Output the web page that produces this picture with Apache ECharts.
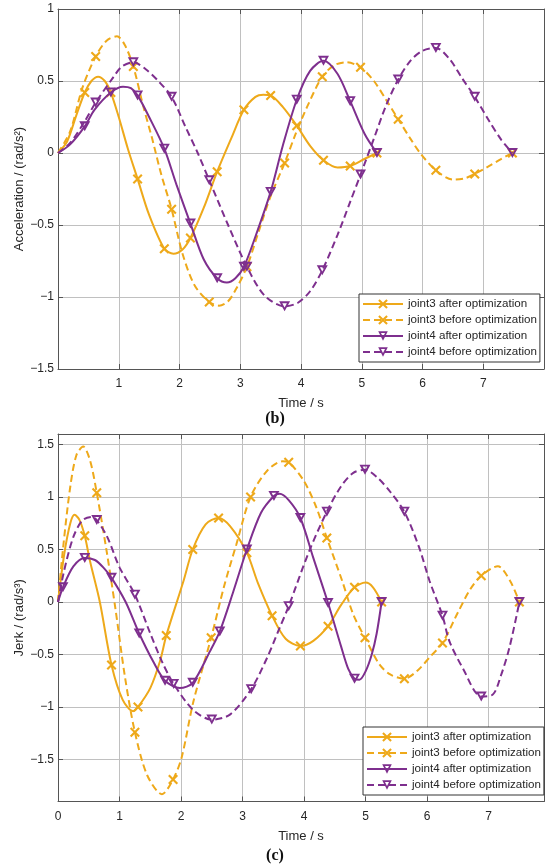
<!DOCTYPE html>
<html>
<head>
<meta charset="utf-8">
<script src="https://cdn.jsdelivr.net/npm/echarts@6/dist/echarts.min.js"></script>
<style>
html,body{margin:0;padding:0;background:#fff;}
#chart{width:550px;height:868px;}
</style>
</head>
<body>
<div id="chart"></div>
<script>
// ---------- DATA ----------
const seriesNames = ['joint3 after optimization', 'joint3 before optimization', 'joint4 after optimization', 'joint4 before optimization'];

// (b) Acceleration
const accJ3AfterT = [0, 0.15, 0.3, 0.44, 0.55, 0.66, 0.77, 0.87, 1.0, 1.15, 1.31, 1.5, 1.75, 1.9, 2.05, 2.18, 2.4, 2.62, 2.85, 3.06, 3.25, 3.38, 3.5, 3.7, 3.93, 4.15, 4.37, 4.6, 4.81, 5.05, 5.25];
const accJ3AfterV = [0, 0.08, 0.26, 0.42, 0.5, 0.53, 0.5, 0.42, 0.25, 0.03, -0.18, -0.43, -0.665, -0.7, -0.67, -0.59, -0.38, -0.13, 0.1, 0.3, 0.39, 0.405, 0.4, 0.32, 0.19, 0.05, -0.05, -0.1, -0.09, -0.04, 0];
const accJ3AfterMarks = [0.44, 0.87, 1.31, 1.75, 2.18, 2.62, 3.06, 3.5, 3.93, 4.37, 4.81, 5.25];

const accJ3BeforeT = [0, 0.2, 0.4, 0.62, 0.8, 0.97, 1.1, 1.24, 1.4, 1.55, 1.7, 1.87, 2.05, 2.25, 2.49, 2.65, 2.8, 2.95, 3.11, 3.3, 3.5, 3.73, 3.9, 4.1, 4.35, 4.55, 4.75, 4.98, 5.2, 5.4, 5.6, 5.8, 5.96, 6.22, 6.5, 6.7, 6.86, 7.1, 7.3, 7.48];
const accJ3BeforeV = [0, 0.15, 0.45, 0.67, 0.78, 0.81, 0.75, 0.6, 0.33, 0.1, -0.15, -0.39, -0.7, -0.92, -1.035, -1.06, -1.03, -0.93, -0.79, -0.55, -0.3, -0.07, 0.12, 0.32, 0.53, 0.61, 0.63, 0.595, 0.5, 0.37, 0.235, 0.1, 0, -0.12, -0.185, -0.175, -0.145, -0.09, -0.04, 0];
const accJ3BeforeMarks = [0.62, 1.24, 1.87, 2.49, 3.11, 3.73, 4.35, 4.98, 5.6, 6.22, 6.86, 7.48];

const accJ4AfterT = [0, 0.2, 0.44, 0.6, 0.87, 1.07, 1.2, 1.31, 1.5, 1.75, 1.95, 2.18, 2.4, 2.62, 2.78, 2.92, 3.06, 3.25, 3.5, 3.7, 3.93, 4.15, 4.37, 4.6, 4.81, 5.05, 5.25];
const accJ4AfterV = [0, 0.06, 0.185, 0.3, 0.42, 0.46, 0.45, 0.4, 0.25, 0.03, -0.22, -0.49, -0.74, -0.87, -0.9, -0.87, -0.79, -0.58, -0.27, 0.05, 0.37, 0.57, 0.64, 0.55, 0.36, 0.13, 0];
const accJ4AfterMarks = [0.44, 0.87, 1.31, 1.75, 2.18, 2.62, 3.06, 3.5, 3.93, 4.37, 4.81, 5.25];

const accJ4BeforeT = [0, 0.2, 0.44, 0.62, 0.9, 1.05, 1.24, 1.45, 1.65, 1.87, 2.1, 2.3, 2.49, 2.8, 3.11, 3.4, 3.73, 3.95, 4.15, 4.35, 4.6, 4.8, 4.98, 5.2, 5.4, 5.6, 5.8, 6.0, 6.22, 6.45, 6.65, 6.86, 7.1, 7.3, 7.48];
const accJ4BeforeV = [0, 0.07, 0.22, 0.35, 0.52, 0.6, 0.63, 0.58, 0.5, 0.39, 0.18, 0.0, -0.19, -0.5, -0.79, -0.99, -1.065, -1.04, -0.96, -0.815, -0.57, -0.35, -0.15, 0.1, 0.33, 0.51, 0.64, 0.71, 0.73, 0.65, 0.52, 0.39, 0.22, 0.09, 0];
const accJ4BeforeMarks = [0.62, 1.24, 1.87, 2.49, 3.11, 3.73, 4.35, 4.98, 5.6, 6.22, 6.86, 7.48];

// (c) Jerk
const jerkJ3AfterT = [0, 0.1, 0.2, 0.27, 0.35, 0.435, 0.52, 0.68, 0.87, 1.05, 1.22, 1.3, 1.5, 1.66, 1.76, 2.04, 2.19, 2.4, 2.61, 2.8, 3.07, 3.25, 3.48, 3.7, 3.94, 4.15, 4.39, 4.6, 4.82, 5.0, 5.12, 5.26];
const jerkJ3AfterV = [0, 0.45, 0.75, 0.83, 0.78, 0.63, 0.39, 0, -0.6, -0.93, -1.04, -1.0, -0.82, -0.56, -0.32, 0.2, 0.5, 0.74, 0.8, 0.72, 0.47, 0.18, -0.13, -0.35, -0.42, -0.37, -0.23, -0.03, 0.14, 0.185, 0.14, 0];
const jerkJ3AfterMarks = [0.435, 0.87, 1.3, 1.76, 2.19, 2.61, 3.07, 3.48, 3.94, 4.39, 4.82, 5.26];

const jerkJ3BeforeT = [0, 0.08, 0.2, 0.3, 0.41, 0.52, 0.63, 0.8, 0.93, 1.09, 1.25, 1.45, 1.69, 1.87, 2.01, 2.2, 2.49, 2.7, 2.9, 3.13, 3.4, 3.65, 3.75, 4.0, 4.2, 4.37, 4.62, 4.8, 4.99, 5.22, 5.4, 5.63, 5.85, 6.05, 6.25, 6.5, 6.7, 6.88, 7.15, 7.35, 7.5];
const jerkJ3BeforeV = [0, 0.5, 1.1, 1.4, 1.48, 1.35, 1.04, 0.45, -0.05, -0.72, -1.24, -1.65, -1.83, -1.69, -1.48, -0.95, -0.34, 0.15, 0.55, 1.0, 1.25, 1.34, 1.33, 1.15, 0.9, 0.61, 0.2, -0.12, -0.34, -0.59, -0.69, -0.73, -0.65, -0.52, -0.39, -0.1, 0.12, 0.25, 0.34, 0.2, 0];
const jerkJ3BeforeMarks = [0.63, 1.25, 1.87, 2.49, 3.13, 3.75, 4.37, 4.99, 5.63, 6.25, 6.88, 7.5];

const jerkJ4AfterT = [0, 0.08, 0.25, 0.435, 0.6, 0.75, 0.87, 1.1, 1.32, 1.55, 1.74, 1.98, 2.19, 2.47, 2.63, 2.85, 3.07, 3.3, 3.51, 3.6, 3.75, 3.94, 4.15, 4.39, 4.6, 4.72, 4.82, 4.9, 5.0, 5.1, 5.18, 5.26];
const jerkJ4AfterV = [0, 0.14, 0.34, 0.42, 0.4, 0.32, 0.23, 0.0, -0.3, -0.57, -0.75, -0.82, -0.77, -0.47, -0.28, 0.1, 0.5, 0.85, 1.01, 1.03, 0.97, 0.8, 0.42, -0.01, -0.42, -0.64, -0.73, -0.74, -0.66, -0.5, -0.3, 0];
const jerkJ4AfterMarks = [0.08, 0.435, 0.87, 1.32, 1.74, 2.19, 2.63, 3.07, 3.51, 3.94, 4.39, 4.82, 5.26];

const jerkJ4BeforeT = [0, 0.1, 0.25, 0.4, 0.55, 0.63, 0.8, 1.0, 1.25, 1.5, 1.7, 1.88, 2.2, 2.5, 2.8, 3.14, 3.4, 3.6, 3.75, 4.08, 4.37, 4.6, 4.8, 4.99, 5.2, 5.4, 5.63, 5.87, 6.04, 6.25, 6.36, 6.58, 6.88, 7.07, 7.2, 7.34, 7.5];
const jerkJ4BeforeV = [0, 0.3, 0.62, 0.78, 0.81, 0.78, 0.62, 0.33, 0.07, -0.3, -0.58, -0.78, -1.03, -1.12, -1.07, -0.83, -0.53, -0.25, -0.04, 0.48, 0.86, 1.1, 1.23, 1.26, 1.18, 1.05, 0.86, 0.52, 0.2, -0.13, -0.37, -0.63, -0.9, -0.88, -0.7, -0.43, 0];
const jerkJ4BeforeMarks = [0.63, 1.25, 1.88, 2.5, 3.14, 3.75, 4.37, 4.99, 5.63, 6.25, 6.88, 7.5];

// tick labels
const xTicksB = [0, 1, 2, 3, 4, 5, 6, 7, 8];
const yTicksB = [-1.5, -1, -0.5, 0, 0.5, 1];
const xTicksC = [0, 1, 2, 3, 4, 5, 6, 7];
const yTicksC = [-1.5, -1, -0.5, 0, 0.5, 1, 1.5];

// ---------- STYLE ----------
const ORANGE = '#EEA91A';
const PURPLE = '#7E2F8E';
const X_PATH = 'path://M0,1.5 L1.5,0 L5,3.5 L8.5,0 L10,1.5 L6.5,5 L10,8.5 L8.5,10 L5,6.5 L1.5,10 L0,8.5 L3.5,5 Z';
const TRI_PATH = 'path://M0,0 L10,0 L5,9 Z M2.89,1.7 L5,5.5 L7.11,1.7 Z';
const FONT = 'Liberation Sans, Arial, sans-serif';
const TXT = '#262626';
const AXIS = '#555555';
const GRID = '#c0c0c0';

const styles = [
  {color: ORANGE, symbol: X_PATH, size: 10, dash: 'solid'},
  {color: ORANGE, symbol: X_PATH, size: 10, dash: [7, 4]},
  {color: PURPLE, symbol: TRI_PATH, size: [11, 10], dash: 'solid'},
  {color: PURPLE, symbol: TRI_PATH, size: [11, 10], dash: [7, 4]}
];

function build(T, V, marks) {
  return T.map((t, i) => {
    const item = {value: [t, V[i]]};
    if (marks.indexOf(t) < 0) item.symbol = 'none';
    return item;
  });
}

function mkSeries(idx, T, V, marks, xi, yi) {
  const s = styles[idx];
  return {
    type: 'line', name: seriesNames[idx], xAxisIndex: xi, yAxisIndex: yi,
    data: build(T, V, marks),
    smooth: 0.3,
    symbol: s.symbol, symbolSize: s.size, showAllSymbol: true,
    lineStyle: {color: s.color, width: 2, type: s.dash},
    itemStyle: {color: s.color, borderWidth: 0},
    emphasis: {disabled: true},
    clip: true,
    z: 3 + idx
  };
}

const fmt = v => String(v).replace('-', '\u2212');

function xAxisMain(grid, min, max, ticks, hide) {
  return {
    type: 'value', gridIndex: grid, min: min, max: max, position: 'bottom',
    axisLine: {show: true, onZero: false, lineStyle: {color: AXIS, width: 1}},
    axisTick: {show: true, inside: true, length: 5, lineStyle: {color: AXIS}, customValues: ticks},
    axisLabel: {color: TXT, fontSize: 12, fontFamily: FONT, margin: 9, customValues: ticks,
      formatter: v => (hide.indexOf(v) >= 0 ? '' : fmt(v))},
    splitLine: {show: true, lineStyle: {color: GRID, width: 1}},
    name: 'Time / s', nameLocation: 'middle', nameGap: 28,
    nameTextStyle: {color: TXT, fontSize: 13, fontFamily: FONT}
  };
}
function xAxisTop(grid, min, max, ticks) {
  return {
    type: 'value', gridIndex: grid, min: min, max: max, position: 'top',
    axisLine: {show: true, onZero: false, lineStyle: {color: AXIS, width: 1}},
    axisTick: {show: true, inside: true, length: 5, lineStyle: {color: AXIS}, customValues: ticks},
    axisLabel: {show: false, customValues: ticks},
    splitLine: {show: false}
  };
}
function yAxisMain(grid, min, max, ticks, name, gap) {
  return {
    type: 'value', gridIndex: grid, min: min, max: max, position: 'left',
    axisLine: {show: true, onZero: false, lineStyle: {color: AXIS, width: 1}},
    axisTick: {show: true, inside: true, length: 5, lineStyle: {color: AXIS}, customValues: ticks},
    axisLabel: {color: TXT, fontSize: 12, fontFamily: FONT, margin: 4, customValues: ticks, formatter: fmt},
    splitLine: {show: true, lineStyle: {color: GRID, width: 1}},
    name: name, nameLocation: 'middle', nameGap: gap, nameMoveOverlap: false,
    nameTextStyle: {color: TXT, fontSize: 13, fontFamily: FONT}
  };
}
function yAxisRight(grid, min, max, ticks) {
  return {
    type: 'value', gridIndex: grid, min: min, max: max, position: 'right',
    axisLine: {show: true, onZero: false, lineStyle: {color: AXIS, width: 1}},
    axisTick: {show: true, inside: true, length: 5, lineStyle: {color: AXIS}, customValues: ticks},
    axisLabel: {show: false, customValues: ticks},
    splitLine: {show: false}
  };
}

function legendAt(left, top) {
  return {
    orient: 'vertical', left: left, top: top,
    data: seriesNames,
    itemWidth: 40, itemHeight: 12, itemGap: 4,
    padding: [4, 3, 4, 3],
    backgroundColor: '#ffffff', borderColor: '#333333', borderWidth: 1, borderRadius: 0,
    textStyle: {color: TXT, fontSize: 11.6, fontFamily: FONT},
    itemStyle: {borderWidth: 0},
    selectedMode: false
  };
}

const chart = echarts.init(document.getElementById('chart'), null, {renderer: 'canvas'});
chart.setOption({
  animation: false,
  backgroundColor: '#ffffff',
  textStyle: {fontFamily: FONT},
  title: [
    {text: '(b)', left: 'center', top: 411, padding: 0,
     textStyle: {fontFamily: 'Liberation Serif, Times New Roman, serif', fontWeight: 'bold', fontSize: 16, color: '#111'}},
    {text: '(c)', left: 'center', top: 848, padding: 0,
     textStyle: {fontFamily: 'Liberation Serif, Times New Roman, serif', fontWeight: 'bold', fontSize: 16, color: '#111'}}
  ],
  grid: [
    {left: 58, top: 9, width: 486, height: 360, containLabel: false},
    {left: 58, top: 434, width: 486, height: 367.5, containLabel: false}
  ],
  legend: [legendAt(359, 294), legendAt(363, 727)],
  xAxis: [
    xAxisMain(0, 0, 8, xTicksB, [0, 8]),
    xAxisTop(0, 0, 8, xTicksB),
    xAxisMain(1, 0, 7.9, xTicksC, []),
    xAxisTop(1, 0, 7.9, xTicksC)
  ],
  yAxis: [
    yAxisMain(0, -1.5, 1, yTicksB, 'Acceleration / (rad/s\u00B2)', 32),
    yAxisRight(0, -1.5, 1, yTicksB),
    yAxisMain(1, -1.9, 1.6, yTicksC, 'Jerk / (rad/s\u00B3)', 32),
    yAxisRight(1, -1.9, 1.6, yTicksC)
  ],
  series: [
    mkSeries(0, accJ3AfterT, accJ3AfterV, accJ3AfterMarks, 0, 0),
    mkSeries(1, accJ3BeforeT, accJ3BeforeV, accJ3BeforeMarks, 0, 0),
    mkSeries(2, accJ4AfterT, accJ4AfterV, accJ4AfterMarks, 0, 0),
    mkSeries(3, accJ4BeforeT, accJ4BeforeV, accJ4BeforeMarks, 0, 0),
    mkSeries(0, jerkJ3AfterT, jerkJ3AfterV, jerkJ3AfterMarks, 2, 2),
    mkSeries(1, jerkJ3BeforeT, jerkJ3BeforeV, jerkJ3BeforeMarks, 2, 2),
    mkSeries(2, jerkJ4AfterT, jerkJ4AfterV, jerkJ4AfterMarks, 2, 2),
    mkSeries(3, jerkJ4BeforeT, jerkJ4BeforeV, jerkJ4BeforeMarks, 2, 2)
  ]
});
</script>
</body>
</html>
